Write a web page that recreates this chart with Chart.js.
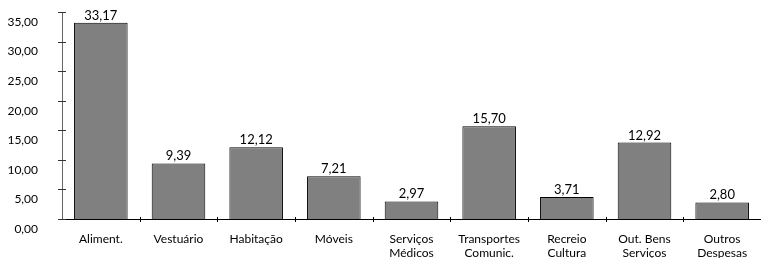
<!DOCTYPE html>
<html>
<head>
<meta charset="utf-8">
<script src="https://cdn.jsdelivr.net/npm/chart.js@4.4.1/dist/chart.umd.min.js"></script>
<style>
  html, body { margin: 0; padding: 0; background: #fff; }
  #wrap { width: 761px; height: 258px; }
</style>
</head>
<body>
<div id="wrap"><canvas id="chart"></canvas></div>
<script>
const categories = [
    'Aliment.', 'Vestuário', 'Habitação', 'Móveis', ['Serviços', 'Médicos'],
    ['Transportes', 'Comunic.'], ['Recreio', 'Cultura'], ['Out. Bens', 'Serviços'], ['Outros', 'Despesas']
];
const values = [33.17, 9.39, 12.12, 7.21, 2.97, 15.70, 3.71, 12.92, 2.80];
const yTicks = [0, 5, 10, 15, 20, 25, 30, 35];

function fmt(v) {
    return v.toFixed(2).replace('.', ',');
}

// tick marks crossing the axes, plus value labels above bars
const decorPlugin = {
    id: 'decor',
    afterDraw(chart) {
        const ctx = chart.ctx;
        const y = chart.scales.y;
        const x = chart.scales.x;
        ctx.save();
        ctx.strokeStyle = '#333';
        ctx.lineWidth = 1;
        y.ticks.forEach(t => {
            const py = Math.round(y.getPixelForValue(t.value)) + 0.5;
            ctx.beginPath();
            ctx.moveTo(x.left - 4, py);
            ctx.lineTo(x.left + 4, py);
            ctx.stroke();
        });
        ctx.strokeStyle = '#000';
        for (let i = 1; i < categories.length; i++) {
            const px = Math.round((x.getPixelForValue(i - 1) + x.getPixelForValue(i)) / 2) + 0.5;
            ctx.beginPath();
            ctx.moveTo(px, y.bottom - 2);
            ctx.lineTo(px, y.bottom + 3);
            ctx.stroke();
        }
        ctx.fillStyle = '#000';
        ctx.font = '13px Lato';
        ctx.textAlign = 'center';
        ctx.textBaseline = 'alphabetic';
        const meta = chart.getDatasetMeta(0);
        meta.data.forEach((bar, i) => {
            ctx.fillText(fmt(values[i]), bar.x, bar.y - 3);
        });
        ctx.restore();
    }
};

new Chart(document.getElementById('chart'), {
    type: 'bar',
    data: {
        labels: categories,
        datasets: [{
            data: values,
            backgroundColor: '#808080',
            borderColor: '#000',
            borderWidth: 1,
            barPercentage: 0.69,
            categoryPercentage: 1
        }]
    },
    options: {
        responsive: true,
        maintainAspectRatio: false,
        animation: false,
        layout: { padding: { top: 12, right: 0, left: 0, bottom: 0 } },
        plugins: {
            legend: { display: false },
            tooltip: { enabled: false }
        },
        scales: {
            x: {
                grid: { display: false },
                border: { color: '#000', width: 1 },
                ticks: {
                    color: '#000',
                    font: { family: 'Lato', size: 12, lineHeight: 1.15 },
                    maxRotation: 0,
                    autoSkip: false,
                    padding: 5
                },
                afterFit(scale) {
                    scale.height = 39;
                    scale.paddingLeft = 0;
                    scale.paddingRight = 0;
                }
            },
            y: {
                min: 0,
                max: 35,
                afterBuildTicks(scale) {
                    scale.ticks = yTicks.map(v => ({ value: v }));
                },
                grid: { display: false },
                border: { color: '#666', width: 1 },
                ticks: {
                    color: '#000',
                    font: { family: 'Lato', size: 12 },
                    labelOffset: 10,
                    padding: 16,
                    callback: v => fmt(v)
                },
                afterFit(scale) {
                    scale.width = 62;
                    scale.paddingTop = 0;
                    scale.paddingBottom = 0;
                }
            }
        }
    },
    plugins: [decorPlugin]
});
</script>
</body>
</html>
